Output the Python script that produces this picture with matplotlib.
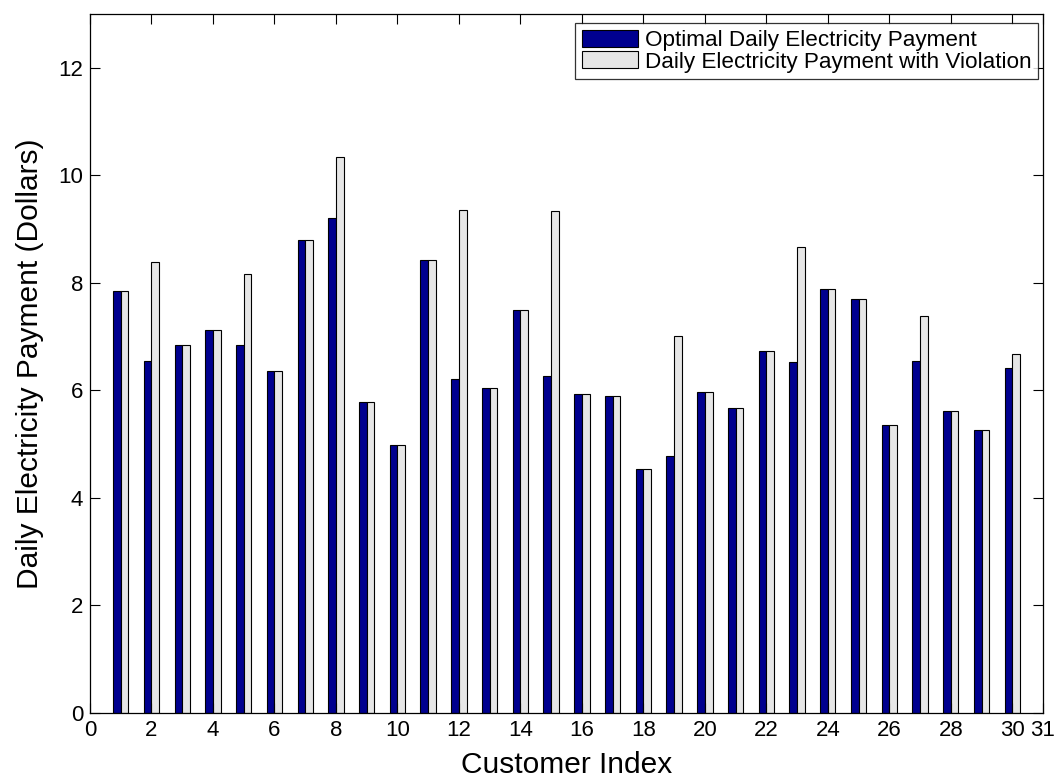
import numpy as np
import matplotlib
matplotlib.use("Agg")
import matplotlib.pyplot as plt

plt.rcParams['font.family'] = ['Liberation Sans', 'DejaVu Sans']

customers = np.arange(1, 31)
optimal_payment = [7.84, 6.55, 6.84, 7.13, 6.84, 6.36, 8.79, 9.20, 5.78, 4.99,
                   8.42, 6.21, 6.04, 7.49, 6.26, 5.94, 5.89, 4.54, 4.78, 5.97,
                   5.68, 6.73, 6.52, 7.89, 7.70, 5.36, 6.55, 5.62, 5.26, 6.41]
violation_payment = [7.84, 8.39, 6.84, 7.13, 8.16, 6.36, 8.79, 10.34, 5.78, 4.99,
                     8.42, 9.36, 6.04, 7.49, 9.34, 5.94, 5.89, 4.54, 7.02, 5.97,
                     5.68, 6.73, 8.66, 7.89, 7.70, 5.36, 7.39, 5.62, 5.26, 6.67]
xticks = list(range(0, 31, 2)) + [31]
yticks = [0, 2, 4, 6, 8, 10, 12]

fig = plt.figure(figsize=(10.6, 7.83), dpi=100)
ax = fig.add_axes([90 / 1060, 70 / 783, 953 / 1060, 699 / 783])

w = 0.25
ax.bar(customers - w / 2, optimal_payment, width=w, color='#00008F',
       edgecolor='black', linewidth=0.8, label='Optimal Daily Electricity Payment')
ax.bar(customers + w / 2, violation_payment, width=w, color='#E6E6E6',
       edgecolor='black', linewidth=0.8, label='Daily Electricity Payment with Violation')

ax.set_xlim(0, 31)
ax.set_ylim(0, 13)
ax.set_xticks(xticks)
ax.set_yticks(yticks)
ax.tick_params(direction='in', length=7, width=0.8, labelsize=16,
               top=True, right=True, pad=5)
for s in ax.spines.values():
    s.set_linewidth(0.9)

ax.set_xlabel('Customer Index', fontsize=21.5, labelpad=7)
ax.set_ylabel('Daily Electricity Payment (Dollars)', fontsize=21.5, labelpad=10)

leg = ax.legend(loc='upper right', bbox_to_anchor=(1038 / 1060, 760 / 783),
                bbox_transform=fig.transFigure, borderaxespad=0,
                fontsize=16.2, frameon=True, fancybox=False,
                edgecolor='black', borderpad=0.3, handlelength=2.5,
                handleheight=0.8, labelspacing=0.0, handletextpad=0.3)
leg.get_frame().set_linewidth(0.9)

fig.savefig('out.png', dpi=100)
